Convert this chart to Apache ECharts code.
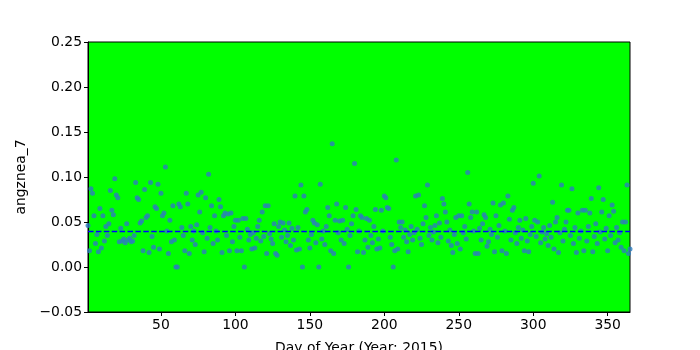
<!DOCTYPE html>
<html>
<head>
<meta charset="utf-8">
<script src="https://cdn.jsdelivr.net/npm/echarts@6/dist/echarts.min.js"></script>
<style>html,body{margin:0;padding:0;background:#fff}#c{width:700px;height:350px}</style>
</head>
<body>
<div id="c"></div>
<script>
// Day of year 1..365
const startDay = 1;
const values = [
0.046,0.018,0.087,0.082,0.057,0.026,0.036,0.017,0.065,0.021,
0.057,0.029,0.045,0.035,0.048,0.085,0.063,0.058,0.098,0.080,
0.077,0.028,0.043,0.029,0.031,0.027,0.048,0.030,0.032,0.028,
0.029,0.035,0.094,0.077,0.075,0.049,0.051,0.018,0.086,0.055,
0.057,0.016,0.094,0.034,0.022,0.067,0.065,0.092,0.020,0.082,
0.057,0.060,0.111,0.040,0.015,0.052,0.028,0.068,0.030,0.000,
0.000,0.070,0.067,0.044,0.035,0.018,0.082,0.070,0.015,0.045,
0.030,0.040,0.025,0.047,0.080,0.061,0.083,0.038,0.017,0.077,
0.032,0.103,0.044,0.068,0.026,0.057,0.040,0.030,0.075,0.067,
0.016,0.057,0.060,0.035,0.059,0.018,0.060,0.028,0.045,0.052,
0.018,0.052,0.033,0.018,0.054,0.000,0.054,0.042,0.030,0.036,
0.020,0.038,0.021,0.032,0.045,0.052,0.029,0.061,0.034,0.068,
0.015,0.068,0.037,0.031,0.026,0.048,0.015,0.013,0.045,0.050,
0.033,0.049,0.041,0.028,0.035,0.049,0.024,0.043,0.030,0.079,
0.019,0.044,0.020,0.091,0.000,0.079,0.061,0.064,0.030,0.021,
0.036,0.052,0.049,0.027,0.047,0.000,0.092,0.031,0.040,0.025,
0.045,0.066,0.057,0.018,0.137,0.015,0.052,0.070,0.038,0.051,
0.030,0.052,0.026,0.066,0.042,0.000,0.035,0.048,0.057,0.115,
0.064,0.017,0.040,0.057,0.055,0.016,0.030,0.054,0.022,0.052,
0.035,0.027,0.045,0.064,0.020,0.031,0.021,0.063,0.040,0.079,
0.077,0.066,0.065,0.033,0.025,0.000,0.018,0.119,0.020,0.050,
0.044,0.050,0.033,0.041,0.028,0.017,0.036,0.045,0.030,0.038,
0.079,0.042,0.080,0.032,0.025,0.048,0.068,0.055,0.091,0.035,
0.044,0.030,0.039,0.046,0.057,0.027,0.049,0.033,0.076,0.070,
0.061,0.050,0.029,0.041,0.024,0.016,0.036,0.055,0.026,0.057,
0.020,0.057,0.038,0.045,0.031,0.105,0.070,0.055,0.061,0.040,
0.015,0.061,0.015,0.043,0.030,0.048,0.058,0.055,0.023,0.028,
0.042,0.036,0.071,0.017,0.057,0.033,0.046,0.069,0.018,0.071,
0.040,0.015,0.079,0.053,0.030,0.063,0.066,0.038,0.026,0.044,
0.052,0.032,0.041,0.018,0.054,0.029,0.017,0.036,0.045,0.093,
0.052,0.034,0.050,0.101,0.027,0.039,0.044,0.031,0.037,0.024,
0.046,0.033,0.072,0.020,0.050,0.055,0.016,0.038,0.091,0.029,
0.042,0.050,0.063,0.063,0.035,0.087,0.026,0.044,0.016,0.060,
0.032,0.040,0.063,0.018,0.063,0.029,0.045,0.060,0.076,0.017,
0.034,0.048,0.026,0.088,0.039,0.061,0.075,0.031,0.043,0.018,
0.057,0.035,0.069,0.062,0.027,0.044,0.030,0.038,0.022,0.050,
0.018,0.050,0.091,0.015,0.020
];
const meanValue = 0.041;
const xTicks = [50, 100, 150, 200, 250, 300, 350];
const yTicks = [-0.05, 0, 0.05, 0.10, 0.15, 0.20, 0.25];
const xName = 'Day of Year (Year: 2015)';
const yName = 'angznea_7';

const points = values.map((v, i) => [startDay + i, v]);
const font = 'DejaVu Sans';
const chart = echarts.init(document.getElementById('c'), null, {renderer: 'canvas'});
chart.setOption({
  animation: false,
  backgroundColor: '#ffffff',
  grid: {left: 88, right: 70, top: 42, bottom: 38, containLabel: false, outerBoundsMode: 'none',
    show: true, backgroundColor: '#00ff00', borderColor: '#000', borderWidth: 1},
  xAxis: {
    type: 'value', min: 1, max: 365,
    name: xName, nameLocation: 'middle', nameGap: 29,
    nameTextStyle: {fontFamily: font, fontSize: 13.9, color: '#000'},
    axisLine: {show: true, onZero: false, lineStyle: {color: '#000', width: 1}},
    axisTick: {show: true, length: 4, customValues: xTicks, lineStyle: {color: '#000'}},
    axisLabel: {customValues: xTicks, fontFamily: font, fontSize: 13.9, color: '#000', margin: 6},
    splitLine: {show: false}
  },
  yAxis: {
    type: 'value', min: yTicks[0], max: yTicks[yTicks.length - 1],
    name: yName, nameLocation: 'middle', nameGap: 56,
    nameTextStyle: {fontFamily: font, fontSize: 13.9, color: '#000'},
    axisLine: {show: true, onZero: false, lineStyle: {color: '#000', width: 1}},
    axisTick: {show: true, length: 4, customValues: yTicks, lineStyle: {color: '#000'}},
    axisLabel: {customValues: yTicks, fontFamily: font, fontSize: 13.9, color: '#000', margin: 6,
      formatter: v => (v < 0 ? '\u2212' : '') + Math.abs(v).toFixed(2)},
    splitLine: {show: false}
  },
  series: [{
    type: 'scatter',
    data: points,
    symbol: 'circle',
    symbolSize: 5,
    itemStyle: {color: '#2d7dbe'},
    markLine: {
      silent: true, symbol: 'none', label: {show: false},
      lineStyle: {color: '#0000ff', type: [5.5, 2.4], width: 1.3},
      data: [{yAxis: meanValue}]
    }
  }]
});
</script>
</body>
</html>
